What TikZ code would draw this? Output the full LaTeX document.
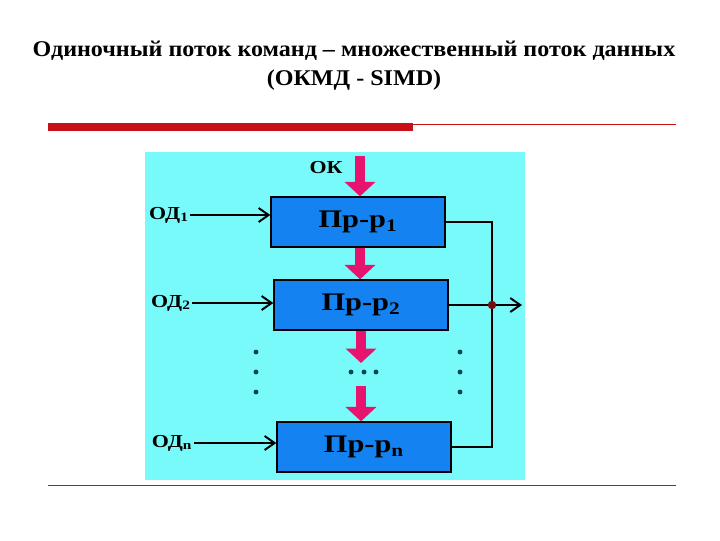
\documentclass[tikz,border=0pt]{standalone}
\usepackage{fontspec}
\setmainfont{Liberation Serif}
\usepackage{graphicx}
\usetikzlibrary{arrows.meta, positioning, calc}
\definecolor{panel}{RGB}{120,250,250}
\definecolor{boxblue}{RGB}{20,130,240}
\definecolor{fatpink}{RGB}{230,20,110}
\definecolor{barred}{RGB}{200,16,24}
\definecolor{dotteal}{RGB}{0,70,80}
\newcommand{\wide}[1]{\scalebox{1.2}[1]{#1}}

\begin{document}
\begin{tikzpicture}[x=0.025cm, y=-0.025cm, every node/.style={font=\bfseries, inner sep=1pt},
  proc/.style={draw, line width=1.5pt, fill=boxblue, minimum width=4.33cm, minimum height=1.23cm, font=\bfseries\fontsize{18}{20}\selectfont},
  lbl/.style={font=\bfseries\fontsize{13}{15}\selectfont},
  wire/.style={line width=1.4pt},
  inarrow/.style={wire, -{Straight Barb[length=2.5mm, width=3.5mm]}},
  fatarrow/.style={fatpink, line width=2.6mm, -{Triangle[length=3.6mm, width=7.5mm]}},
  dot/.style={circle, fill=dotteal, inner sep=0pt, minimum size=3.5pt}]
  \useasboundingbox (0,0) rectangle (720,540);
  \fill[white] (0,0) rectangle (720,540);

  % heading
  \node (title) at (354,51) {\fontsize{16}{18}\selectfont\scalebox{1.07}[1]{Одиночный поток команд – множественный поток данных}};
  \node (subtitle) at (354,80) {\fontsize{16}{18}\selectfont\scalebox{1.07}[1]{(ОКМД - SIMD)}};
  \fill[barred] (48,123) rectangle (413,131);
  \draw[barred, line width=0.6pt] (413,124) -- (676,124);
  \draw[barred, line width=0.6pt] (48,485) -- (676,485);

  % panel
  \fill[panel] (145,152) rectangle (525,480);

  \node[proc] (p1) at (358,222) {\wide{Пр-р\textsubscript{1}}};
  \node[proc] (p2) at (361,305) {\wide{Пр-р\textsubscript{2}}};
  \node[proc] (pn) at (364,447) {\wide{Пр-р\textsubscript{n}}};

  \node[lbl] (ok) at (326,168) {\wide{ОК}};
  \node[lbl] (od1) at (169,215) {\wide{ОД\textsubscript{1}}};
  \node[lbl] (od2) at (171,303) {\wide{ОД\textsubscript{2}}};
  \node[lbl] (odn) at (172,443) {\wide{ОД\textsubscript{n}}};

  \coordinate (okin) at (360,156);
  \coordinate (gapa) at (361,363);
  \coordinate (gapb) at (361,386);
  \coordinate (bus) at (492,305);
  \coordinate (out) at (522,305);

  % command flow
  \draw[fatarrow] (okin) -- (okin |- p1.north);
  \draw[fatarrow] (p1.south -| okin) -- (p2.north -| okin);
  \draw[fatarrow] (p2.south -| gapa) -- (gapa);
  \draw[fatarrow] (gapb) -- (gapb |- pn.north);

  % data flow
  \draw[inarrow] (od1.east) -- (od1.east -| p1.west);
  \draw[inarrow] (od2.east) -- (od2.east -| p2.west);
  \draw[inarrow] (odn.east) -- (odn.east -| pn.west);
  \draw[wire] (p1.east) -| (bus) |- (pn.east);
  \draw[inarrow] (p2.east) -- (out);
  \node[circle, fill=barred!60!black, inner sep=0pt, minimum size=6pt] (junction) at (bus) {};

  % ellipsis
  \foreach \y in {352,372,392} {
    \node[dot] at (256,\y) {};
    \node[dot] at (460,\y) {};
  }
  \foreach \x in {351,364,376}
    \node[dot] at (\x,372) {};
\end{tikzpicture}
\end{document}
